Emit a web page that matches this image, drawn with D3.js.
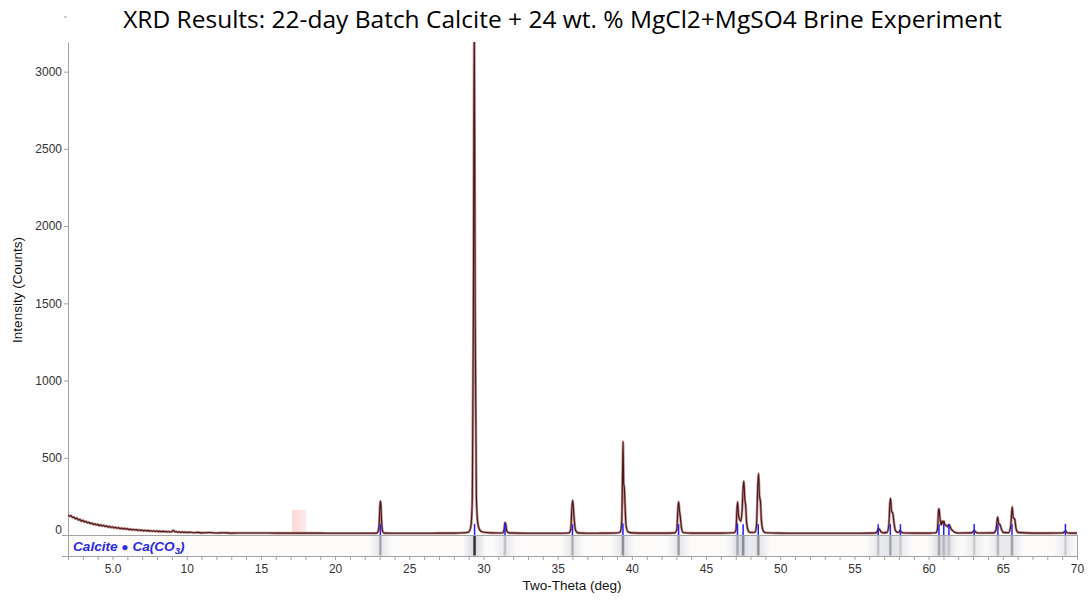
<!DOCTYPE html>
<html>
<head>
<meta charset="utf-8">
<script src="https://cdn.jsdelivr.net/npm/d3@7"></script>
<style>
  body { margin: 0; background: #fff; }
</style>
</head>
<body>
<svg id="chart" width="1090" height="601"></svg>
<script>
// scan: 2-theta (deg) and intensity (counts)
const scanTheta = [
  2.0, 2.1, 2.2, 2.3, 2.4, 2.5, 2.6, 2.7, 2.8, 2.9, 3.0, 3.1, 3.2, 3.3, 3.4, 3.5, 3.6, 3.7, 3.8, 3.9,
  4.0, 4.1, 4.2, 4.3, 4.4, 4.5, 4.6, 4.7, 4.8, 4.9, 5.0, 5.1, 5.2, 5.3, 5.4, 5.5, 5.6, 5.7, 5.8, 5.9,
  6.0, 6.1, 6.2, 6.3, 6.4, 6.5, 6.6, 6.7, 6.8, 6.9, 7.0, 7.1, 7.2, 7.3, 7.4, 7.5, 7.6, 7.7, 7.8, 7.9,
  8.0, 8.1, 8.2, 8.3, 8.4, 8.5, 8.6, 8.7, 8.8, 8.9, 9.0, 9.1, 9.2, 9.3, 9.4, 9.5, 9.6, 9.7, 9.8, 9.9,
  10.0, 10.25, 10.5, 10.75, 11.0, 11.5, 12.0, 12.5, 13.0, 14.0, 15.0, 16.0, 17.0, 18.0, 19.0, 20.0, 21.0, 22.0,
  22.80, 22.92, 22.98, 23.04, 23.08, 23.14, 23.20, 23.32, 24.0, 25.0, 26.0, 27.0, 28.0, 28.7, 29.0,
  29.15, 29.25, 29.32, 29.38, 29.44, 29.52, 29.62, 29.75, 29.95, 30.5, 31.0,
  31.32, 31.39, 31.45, 31.50, 31.57, 31.70, 33.0, 34.0, 35.0,
  35.75, 35.88, 35.96, 36.01, 36.06, 36.12, 36.20, 36.35, 37.0, 38.0, 39.0,
  39.22, 39.32, 39.38, 39.41, 39.45, 39.49, 39.54, 39.61, 39.75, 40.0, 41.0, 42.0,
  42.90, 43.03, 43.10, 43.15, 43.20, 43.27, 43.34, 43.45, 44.0, 45.0, 46.0,
  46.90, 47.02, 47.08, 47.13, 47.19, 47.27, 47.35, 47.43, 47.50, 47.55, 47.61, 47.67, 47.73, 47.86, 48.0,
  48.30, 48.40, 48.48, 48.54, 48.60, 48.67, 48.73, 48.86, 49.0, 50.0, 52.0, 54.0, 56.0,
  56.45, 56.55, 56.62, 56.70, 56.80, 56.95, 57.20, 57.32, 57.39, 57.44, 57.50, 57.58, 57.66, 57.76, 57.90,
  58.00, 58.08, 58.16, 58.35, 59.0, 60.0, 60.5,
  60.60, 60.66, 60.70, 60.76, 60.84, 60.91, 60.97, 61.03, 61.10, 61.20, 61.28, 61.36, 61.42, 61.50, 61.62, 61.78, 62.0,
  62.85, 63.00, 63.07, 63.15, 63.35, 64.40, 64.55, 64.65, 64.72, 64.82, 64.90, 65.02,
  65.40, 65.54, 65.63, 65.70, 65.81, 65.89, 66.02, 67.0, 68.0, 69.0, 69.14, 69.23, 69.30, 69.50, 70.0
];
const scanCounts = [
  130, 121, 126, 113, 117, 105, 109, 97, 101, 90, 95, 84, 89, 79, 83, 74, 78, 69, 73, 65,
  70, 61, 66, 58, 62, 55, 59, 51, 56, 49, 53, 46, 50, 44, 48, 41, 45, 39, 43, 37,
  41, 35, 39, 33, 37, 32, 35, 30, 34, 29, 32, 27, 31, 26, 30, 25, 28, 24, 28, 23,
  27, 22, 26, 21, 25, 21, 24, 20, 23, 19, 22, 31, 20, 22, 18, 21, 17, 20, 16, 19,
  16, 18, 15, 17, 14, 16, 13, 15, 12, 13, 13, 12, 12, 12, 12, 11, 11, 11,
  12, 30, 90, 220, 205, 80, 25, 12, 11, 11, 11, 12, 12, 15, 20,
  55, 240, 1400, 3350, 1450, 250, 75, 32, 19, 14, 13,
  15, 35, 80, 72, 28, 14, 11, 11, 11,
  13, 35, 180, 225, 175, 95, 32, 14, 11, 12, 13,
  20, 90, 450, 605, 330, 310, 200, 60, 20, 14, 12, 12,
  14, 35, 160, 215, 165, 115, 50, 16, 12, 12, 12,
  15, 35, 160, 215, 125, 100, 90, 160, 310, 350, 235, 193, 85, 25, 16,
  18, 60, 300, 400, 255, 215, 95, 26, 15, 12, 11, 11, 12,
  14, 25, 42, 35, 20, 14, 17, 65, 205, 238, 155, 143, 85, 30, 17,
  19, 30, 18, 13, 12, 12, 15,
  40, 150, 172, 115, 65, 90, 72, 90, 64, 62, 54, 68, 62, 42, 28, 17, 13,
  14, 20, 31, 20, 13, 14, 38, 117, 75, 65, 40, 17,
  15, 62, 182, 115, 100, 42, 17, 12, 12, 13, 19, 26, 17, 12, 12
];

// calcite reference lines (blue sticks + density strip)
const refTheta = [23.05, 29.40, 31.45, 36.00, 39.40, 43.15, 47.12, 47.50, 48.52, 56.60, 57.42, 58.10,
                  60.70, 61.02, 61.37, 63.07, 64.67, 65.62, 69.22];
const refStick = [70, 72, 74, 70, 74, 70, 74, 70, 70, 70, 70, 70, 70, 70, 70, 72, 70, 70, 72];
const refShade = [0.35, 1.0, 0.2, 0.3, 0.45, 0.4, 0.3, 0.45, 0.45, 0.2, 0.35, 0.15,
                  0.3, 0.2, 0.15, 0.15, 0.25, 0.35, 0.15];

// pink marked region
const markFrom = 17.1, markTo = 18.05, markTop = 162;

const yTicks = [0, 500, 1000, 1500, 2000, 2500, 3000];
const xLabels = [5, 10, 15, 20, 25, 30, 35, 40, 45, 50, 55, 60, 65, 70];

const titleText = 'XRD Results: 22-day Batch Calcite + 24 wt. % MgCl2+MgSO4 Brine Experiment';

const plotLeft = 68, plotRight = 1077, plotTop = 42, base = 535, stripBottom = 556;
const axisColor = '#a3a3a3';

const svg = d3.select('#chart');

const x = d3.scaleLinear().domain([2, 70]).range([plotLeft, plotRight]);
const y = d3.scaleLinear().domain([0, 3192]).range([base, plotTop]);

const defs = svg.append('defs');
defs.append('clipPath').attr('id', 'plotClip')
  .append('rect').attr('x', plotLeft).attr('y', plotTop)
  .attr('width', plotRight - plotLeft).attr('height', base - plotTop);

function hGrad(id, color, stops) {
  const g = defs.append('linearGradient').attr('id', id)
    .attr('x1', 0).attr('x2', 1).attr('y1', 0).attr('y2', 0);
  stops.forEach(s => g.append('stop').attr('offset', s[0]).attr('stop-color', color).attr('stop-opacity', s[1]));
}
hGrad('bandCore', '#2a2a2a', [[0, 0], [0.35, 1], [0.65, 1], [1, 0]]);
hGrad('bandHalo', '#b9c0ce', [[0, 0], [0.5, 1], [1, 0]]);
hGrad('pinkMark', '#fbd3d3', [[0, 0.9], [1, 0.5]]);

// title
const title = svg.append('text')
  .attr('x', 562.5).attr('y', 28)
  .attr('text-anchor', 'middle')
  .attr('font-family', '"Open Sans", "Noto Sans", sans-serif')
  .attr('font-size', 26)
  .attr('fill', '#000')
  .text(titleText);
const tw = title.node().getComputedTextLength();
title.attr('font-size', 26 * 879 / tw);

svg.append('line').attr('x1', 64).attr('x2', 67).attr('y1', 17).attr('y2', 17)
  .attr('stroke', '#999').attr('stroke-width', 1);

// strip under the plot
svg.append('rect').attr('x', plotLeft).attr('y', base)
  .attr('width', plotRight - plotLeft).attr('height', stripBottom - base)
  .attr('fill', '#fdfbfa');

svg.append('g').selectAll('rect')
  .data(refTheta)
  .join('rect')
  .attr('x', d => x(d - 0.8)).attr('y', base)
  .attr('width', x(1.6) - x(0)).attr('height', stripBottom - base)
  .attr('fill', 'url(#bandHalo)')
  .attr('opacity', (d, i) => Math.min(0.6, 0.25 + refShade[i] * 0.4));

svg.append('g').selectAll('rect')
  .data(refTheta)
  .join('rect')
  .attr('x', d => x(d - 0.13)).attr('y', base + 0.5)
  .attr('width', x(0.26) - x(0)).attr('height', stripBottom - base - 1)
  .attr('fill', 'url(#bandCore)')
  .attr('opacity', (d, i) => refShade[i]);

const legend = svg.append('text')
  .attr('x', 73).attr('y', 550.5)
  .attr('font-family', '"Liberation Sans", Arial, sans-serif')
  .attr('font-size', 13.6)
  .attr('font-style', 'italic')
  .attr('font-weight', 'bold')
  .attr('fill', '#2a2ae0');
legend.append('tspan').text('Calcite ');
legend.append('tspan').attr('font-size', 12).attr('font-style', 'normal').text('\u25CF');
legend.append('tspan').text(' Ca(CO');
legend.append('tspan').attr('font-size', 9.5).attr('dy', 3).text('3');
legend.append('tspan').attr('dy', -3).text(')');

// pink marked region
svg.append('rect')
  .attr('x', x(markFrom)).attr('y', y(markTop))
  .attr('width', x(markTo) - x(markFrom)).attr('height', y(0) - y(markTop) - 1)
  .attr('fill', 'url(#pinkMark)');

// axes
const yAxis = svg.append('g')
  .attr('transform', `translate(${plotLeft},0)`)
  .call(d3.axisLeft(y).tickValues(yTicks).tickFormat(d3.format('d')).tickSize(4).tickSizeOuter(0).tickPadding(2));
yAxis.select('.domain').attr('stroke', axisColor);
yAxis.selectAll('.tick line').attr('stroke', axisColor);
yAxis.selectAll('.tick text')
  .attr('font-family', '"Liberation Sans", Arial, sans-serif').attr('font-size', 12).attr('fill', '#333')
  .attr('dy', d => d === 0 ? '-0.1em' : '0.32em');

const xAxis = svg.append('g')
  .attr('transform', `translate(0,${stripBottom})`)
  .call(d3.axisBottom(x).tickValues(d3.range(2, 71))
    .tickFormat(d => xLabels.includes(d) ? (d === 5 ? '5.0' : String(d)) : '')
    .tickSize(4).tickSizeOuter(0).tickPadding(4));
xAxis.select('.domain').remove();
xAxis.selectAll('.tick line').attr('stroke', axisColor);
xAxis.selectAll('.tick text')
  .attr('font-family', '"Liberation Sans", Arial, sans-serif').attr('font-size', 12).attr('fill', '#333');

const frame = svg.append('g').attr('stroke', axisColor).attr('stroke-width', 1);
frame.append('line').attr('x1', 62).attr('x2', plotRight).attr('y1', base + 0.5).attr('y2', base + 0.5);
frame.append('line').attr('x1', 62).attr('x2', plotRight).attr('y1', stripBottom + 0.5).attr('y2', stripBottom + 0.5);
frame.append('line').attr('x1', plotLeft + 0.5).attr('x2', plotLeft + 0.5).attr('y1', base).attr('y2', stripBottom);
frame.append('line').attr('x1', plotRight + 0.5).attr('x2', plotRight + 0.5).attr('y1', base).attr('y2', stripBottom);

svg.append('text')
  .attr('transform', 'translate(22,290) rotate(-90)')
  .attr('text-anchor', 'middle')
  .attr('font-family', '"Liberation Sans", Arial, sans-serif')
  .attr('font-size', 13.5).attr('fill', '#111')
  .text('Intensity (Counts)');

svg.append('text')
  .attr('x', 572).attr('y', 590)
  .attr('text-anchor', 'middle')
  .attr('font-family', '"Liberation Sans", Arial, sans-serif')
  .attr('font-size', 13.5).attr('fill', '#111')
  .text('Two-Theta (deg)');

// pattern
const scan = scanTheta.map((t, i) => [t, scanCounts[i]]);
const line = d3.line()
  .x(d => x(d[0]))
  .y(d => y(d[1]))
  .curve(d3.curveMonotoneX);

const plot = svg.append('g').attr('clip-path', 'url(#plotClip)');
plot.append('path').datum(scan)
  .attr('d', line).attr('fill', 'none')
  .attr('stroke', '#bb8e8e').attr('stroke-width', 2.6).attr('stroke-linejoin', 'round');
plot.append('path').datum(scan)
  .attr('d', line).attr('fill', 'none')
  .attr('stroke', '#4b1517').attr('stroke-width', 1.1).attr('stroke-linejoin', 'round');

// calcite sticks
svg.append('g').selectAll('line')
  .data(refTheta)
  .join('line')
  .attr('x1', d => x(d)).attr('x2', d => x(d))
  .attr('y1', base).attr('y2', (d, i) => y(refStick[i]))
  .attr('stroke', '#1f1fff').attr('stroke-width', 1.5);
</script>
</body>
</html>
